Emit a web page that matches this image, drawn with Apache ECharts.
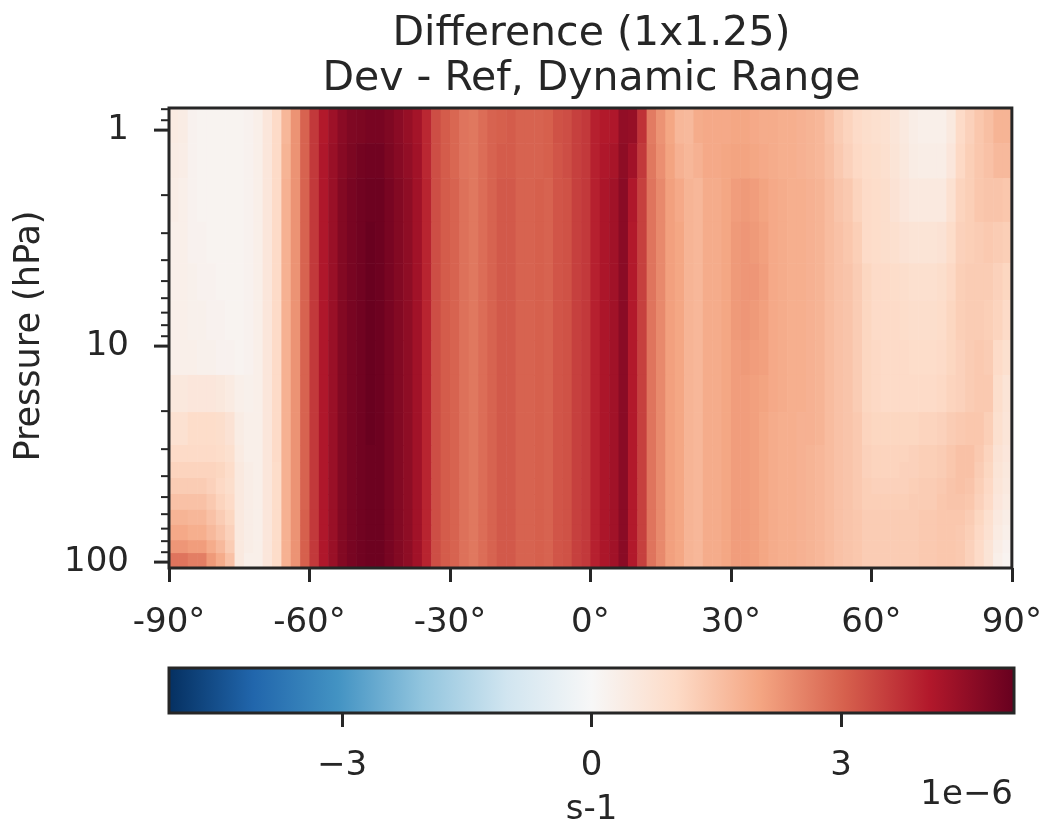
<!DOCTYPE html>
<html><head><meta charset="utf-8">
<script src="https://cdn.jsdelivr.net/npm/echarts@6/dist/echarts.min.js"></script>
<style>html,body{margin:0;padding:0;background:#fff}#c{width:1045px;height:832px}</style>
</head><body><div id="c"></div>
<script>
// ---------- text ----------
const titleLines = ['Difference (1x1.25)', 'Dev - Ref, Dynamic Range'];
const yAxisTitle = 'Pressure (hPa)';
const colorbarTitle = 's-1';
const colorbarExponent = '1e\u22126';

// ---------- coordinates ----------
const latCenters = [-89,-87,-85,-83,-81,-79,-77,-75,-73,-71,-69,-67,-65,-63,-61,-59,-57,-55,-53,-51,-49,-47,-45,-43,-41,-39,-37,-35,-33,-31,-29,-27,-25,-23,-21,-19,-17,-15,-13,-11,-9,-7,-5,-3,-1,1,3,5,7,9,11,13,15,17,19,21,23,25,27,29,31,33,35,37,39,41,43,45,47,49,51,53,55,57,59,61,63,65,67,69,71,73,75,77,79,81,83,85,87,89];
const latHalfWidth = 1;
// pressure level edges (hPa), top to bottom
const levelEdges = [0.79,1.15,1.67,2.66,4.13,6.13,9.37,13.6,20.2,28.7,34.4,40.8,48.4,57.3,67.3,79.1,90.8,106.5];
const xTickStep = 30;
const yMajorTicks = [1, 10, 100];
const yMinorTicks = [0.8,0.9,2,3,4,5,6,7,8,9,20,30,40,50,60,70,80,90];
const colorRange = [-5.08, 5.08];
const colorbarTicks = [-3, 0, 3];
const rdBuR = ['#053061','#2166ac','#4393c3','#92c5de','#d1e5f0','#f7f7f7','#fddbc7','#f4a582','#d6604d','#b2182b','#67001f'];

// ---------- values (units of 1e-6 s-1), one row per pressure layer, top to bottom ----------
// latitudes -89 .. -67
const southPolar = [
 [0.45,0.4,0.2,0.15,0.15,0.15,0.15,0.15,0.2,0.3,0.6,1.0],
 [0.4,0.35,0.2,0.15,0.15,0.15,0.15,0.15,0.2,0.3,0.6,1.0],
 [0.35,0.3,0.2,0.15,0.15,0.15,0.15,0.15,0.2,0.3,0.6,1.0],
 [0.3,0.3,0.2,0.2,0.15,0.15,0.15,0.15,0.2,0.3,0.6,1.0],
 [0.3,0.3,0.25,0.2,0.2,0.15,0.15,0.15,0.2,0.3,0.6,1.0],
 [0.3,0.3,0.25,0.25,0.2,0.2,0.15,0.15,0.2,0.3,0.6,1.0],
 [0.3,0.3,0.3,0.25,0.25,0.2,0.2,0.15,0.2,0.3,0.6,1.0],
 [0.55,0.55,0.6,0.6,0.6,0.55,0.45,0.3,0.25,0.3,0.6,1.0],
 [0.8,0.8,0.95,0.95,0.95,0.9,0.75,0.4,0.3,0.3,0.6,1.0],
 [1.0,1.0,1.0,1.0,1.0,0.95,0.85,0.45,0.3,0.3,0.6,1.0],
 [1.15,1.15,1.15,1.15,1.15,1.1,0.95,0.5,0.35,0.3,0.6,0.95],
 [1.3,1.3,1.3,1.3,1.2,1.05,0.9,0.5,0.35,0.3,0.6,0.95],
 [1.5,1.5,1.5,1.5,1.35,1.15,1.0,0.5,0.35,0.3,0.6,0.95],
 [1.75,1.75,1.7,1.7,1.5,1.3,1.1,0.5,0.35,0.3,0.6,0.95],
 [1.95,1.95,1.85,1.85,1.65,1.45,1.2,0.5,0.35,0.3,0.6,0.95],
 [2.25,2.25,2.15,2.15,1.9,1.65,1.3,0.5,0.35,0.3,0.6,0.95],
 [2.75,2.75,2.6,2.6,2.2,1.9,1.5,0.5,0.3,0.3,0.6,0.95]
];
// latitudes -65 .. 29
const tropics = [
 [1.7,2.3,3.0,3.6,4.05,4.35,4.6,4.75,4.8,4.85,4.85,4.75,4.6,4.45,4.25,3.85,3.3,3.1,2.95,2.75,2.7,2.85,3.0,3.05,3.1,3.0,3.0,3.0,3.05,3.25,3.3,3.5,3.6,3.95,4.05,4.1,4.5,4.45,3.7,2.65,2.3,2.0,1.7,1.65,1.9,1.95,1.95,1.95],
 [1.75,2.3,3.0,3.6,4.1,4.4,4.65,4.8,4.9,4.95,4.95,4.8,4.65,4.5,4.3,3.85,3.3,3.1,2.95,2.75,2.7,2.85,3.0,3.1,3.1,3.0,3.0,3.0,3.05,3.2,3.3,3.5,3.6,3.95,4.1,4.2,4.55,4.3,3.6,2.7,2.35,2.05,1.8,1.7,1.8,1.95,1.95,2.0],
 [1.8,2.3,3.0,3.6,4.1,4.4,4.7,4.85,4.95,5.0,5.0,4.85,4.7,4.55,4.3,3.9,3.3,3.1,3.0,2.8,2.7,2.85,3.0,3.15,3.15,3.0,3.0,3.05,3.0,3.2,3.25,3.5,3.6,3.95,4.15,4.3,4.6,4.1,3.5,2.75,2.45,2.1,1.95,1.75,1.7,1.9,1.9,2.0],
 [1.8,2.3,3.0,3.6,4.1,4.4,4.7,4.85,4.95,5.05,5.0,4.85,4.7,4.55,4.3,3.9,3.3,3.1,3.0,2.8,2.7,2.85,3.0,3.15,3.15,3.0,3.0,3.05,3.0,3.2,3.25,3.5,3.6,3.95,4.15,4.3,4.6,4.05,3.5,2.75,2.45,2.1,2.0,1.75,1.7,1.9,1.9,2.0],
 [1.8,2.3,3.0,3.6,4.1,4.4,4.7,4.85,4.95,5.05,5.0,4.85,4.7,4.55,4.3,3.9,3.3,3.1,3.0,2.8,2.7,2.85,3.0,3.15,3.15,3.0,3.0,3.05,3.0,3.2,3.25,3.5,3.6,3.95,4.15,4.3,4.6,4.05,3.5,2.75,2.45,2.1,2.0,1.75,1.7,1.9,1.9,2.0],
 [1.8,2.3,3.0,3.6,4.1,4.4,4.7,4.85,4.95,5.05,5.0,4.85,4.7,4.55,4.3,3.9,3.3,3.1,3.0,2.8,2.7,2.85,3.0,3.15,3.15,3.0,3.0,3.05,3.0,3.2,3.25,3.5,3.6,3.95,4.15,4.3,4.6,4.05,3.5,2.75,2.45,2.1,2.0,1.75,1.7,1.9,1.9,2.0],
 [1.8,2.3,3.0,3.6,4.1,4.4,4.7,4.85,4.95,5.05,5.0,4.85,4.7,4.55,4.3,3.9,3.3,3.1,3.0,2.8,2.7,2.85,3.0,3.15,3.15,3.0,3.0,3.05,3.0,3.2,3.25,3.5,3.6,3.95,4.15,4.3,4.6,4.05,3.5,2.75,2.45,2.1,2.0,1.75,1.7,1.9,1.9,2.0],
 [1.8,2.3,3.0,3.6,4.1,4.4,4.7,4.85,4.95,5.05,5.0,4.85,4.7,4.55,4.3,3.9,3.3,3.1,3.0,2.8,2.7,2.85,3.0,3.15,3.15,3.0,3.0,3.05,3.0,3.2,3.25,3.5,3.6,3.95,4.15,4.3,4.6,4.05,3.5,2.75,2.45,2.1,2.0,1.75,1.7,1.9,1.9,2.0],
 [1.8,2.3,3.0,3.6,4.1,4.4,4.7,4.85,4.95,5.05,5.0,4.85,4.7,4.55,4.3,3.9,3.3,3.1,3.0,2.8,2.7,2.85,3.0,3.15,3.15,3.0,3.0,3.05,3.0,3.2,3.25,3.5,3.6,3.95,4.15,4.3,4.6,4.05,3.5,2.75,2.45,2.1,2.0,1.75,1.7,1.9,1.9,2.0],
 [1.8,2.3,3.0,3.6,4.1,4.4,4.7,4.85,4.95,5.0,5.0,4.85,4.7,4.55,4.3,3.9,3.3,3.1,3.0,2.8,2.7,2.85,3.0,3.15,3.15,3.0,3.0,3.05,3.0,3.2,3.25,3.5,3.6,3.95,4.15,4.3,4.6,4.05,3.5,2.75,2.45,2.1,2.0,1.75,1.7,1.9,1.9,2.0],
 [1.8,2.3,3.0,3.6,4.1,4.4,4.7,4.85,4.95,5.0,5.0,4.85,4.7,4.55,4.3,3.9,3.3,3.1,3.0,2.8,2.7,2.85,3.0,3.15,3.15,3.0,3.0,3.05,3.0,3.2,3.25,3.5,3.6,3.95,4.15,4.3,4.6,4.05,3.5,2.75,2.45,2.1,2.0,1.75,1.7,1.9,1.9,2.0],
 [1.8,2.3,3.0,3.6,4.1,4.4,4.7,4.85,4.95,5.0,5.0,4.85,4.7,4.55,4.3,3.9,3.3,3.1,3.0,2.8,2.7,2.85,3.0,3.15,3.15,3.0,3.0,3.05,3.0,3.2,3.25,3.5,3.6,3.95,4.15,4.3,4.6,4.05,3.5,2.75,2.45,2.1,2.0,1.75,1.7,1.9,1.9,2.0],
 [1.8,2.3,3.0,3.6,4.1,4.4,4.7,4.85,4.95,5.0,5.0,4.85,4.7,4.55,4.3,3.9,3.3,3.1,3.0,2.8,2.7,2.85,3.0,3.15,3.15,3.0,3.0,3.05,3.0,3.2,3.25,3.5,3.6,3.95,4.15,4.3,4.6,4.05,3.5,2.75,2.45,2.1,2.0,1.75,1.7,1.9,1.9,2.0],
 [1.8,2.3,3.05,3.6,4.1,4.4,4.7,4.85,4.95,5.0,5.0,4.85,4.7,4.55,4.3,3.9,3.3,3.1,3.0,2.8,2.7,2.85,3.0,3.15,3.15,3.0,3.0,3.05,3.0,3.2,3.25,3.5,3.6,3.95,4.15,4.3,4.6,4.05,3.5,2.75,2.45,2.1,2.0,1.75,1.7,1.9,1.9,2.0],
 [1.8,2.3,3.05,3.6,4.1,4.4,4.7,4.85,4.95,5.0,5.0,4.85,4.7,4.55,4.3,3.9,3.3,3.1,3.0,2.8,2.7,2.85,3.0,3.15,3.15,3.0,3.0,3.05,3.0,3.2,3.25,3.5,3.6,3.95,4.15,4.3,4.6,4.05,3.5,2.75,2.45,2.1,2.0,1.75,1.7,1.9,1.9,2.0],
 [1.8,2.3,3.05,3.6,4.1,4.4,4.7,4.85,4.95,5.0,5.0,4.85,4.7,4.55,4.3,3.9,3.3,3.1,3.0,2.8,2.7,2.85,3.0,3.15,3.15,3.0,3.0,3.05,3.0,3.2,3.25,3.5,3.6,3.95,4.15,4.3,4.6,4.05,3.5,2.75,2.45,2.1,2.0,1.75,1.7,1.9,1.9,2.0],
 [1.8,2.3,3.05,3.6,4.1,4.4,4.7,4.85,4.95,5.0,5.0,4.85,4.7,4.55,4.3,3.9,3.3,3.1,3.0,2.8,2.7,2.85,3.0,3.15,3.15,3.0,3.0,3.05,3.0,3.2,3.25,3.5,3.6,3.95,4.15,4.3,4.6,4.05,3.5,2.75,2.45,2.1,2.0,1.75,1.7,1.9,1.9,2.0]
];
// latitudes 31 .. 89
const northern = [
 [2.0,2.0,1.95,1.9,1.9,1.85,1.85,1.8,1.75,1.7,1.5,1.3,1.15,1.0,0.9,0.85,0.8,0.65,0.5,0.35,0.3,0.3,0.3,0.5,1.0,1.2,1.4,1.55,1.75,1.75],
 [2.05,2.05,2.0,1.95,1.9,1.85,1.85,1.8,1.75,1.7,1.55,1.35,1.2,1.05,0.95,0.9,0.85,0.7,0.55,0.4,0.35,0.35,0.35,0.6,1.05,1.25,1.4,1.5,1.65,1.65],
 [2.15,2.2,2.15,2.05,1.95,1.9,1.85,1.85,1.8,1.75,1.6,1.45,1.35,1.15,1.0,0.95,0.9,0.75,0.6,0.5,0.5,0.5,0.5,0.8,1.15,1.25,1.4,1.45,1.45,1.4],
 [2.2,2.25,2.2,2.1,1.95,1.9,1.85,1.85,1.8,1.75,1.6,1.5,1.4,1.25,1.0,0.95,0.9,0.85,0.75,0.7,0.7,0.7,0.75,0.95,1.2,1.25,1.3,1.35,1.3,1.25],
 [2.2,2.25,2.25,2.15,1.95,1.9,1.85,1.85,1.8,1.75,1.6,1.5,1.45,1.3,1.1,1.0,1.0,0.95,0.9,0.85,0.85,0.85,0.9,1.05,1.25,1.3,1.3,1.3,1.2,1.1],
 [2.2,2.25,2.2,2.1,1.95,1.9,1.85,1.85,1.8,1.75,1.6,1.5,1.45,1.3,1.1,1.0,1.0,1.0,0.95,0.9,0.9,0.9,0.95,1.1,1.25,1.3,1.3,1.25,1.15,1.0],
 [2.15,2.2,2.15,2.1,1.95,1.9,1.85,1.85,1.8,1.75,1.6,1.5,1.45,1.3,1.1,1.05,1.0,1.0,1.0,0.95,0.95,0.95,1.0,1.1,1.2,1.3,1.35,1.3,1.0,0.85],
 [2.15,2.15,2.1,2.05,1.95,1.9,1.85,1.85,1.8,1.75,1.6,1.5,1.45,1.3,1.1,1.05,1.0,1.0,1.0,1.0,1.0,1.0,1.05,1.15,1.2,1.3,1.35,1.35,0.9,0.7],
 [2.15,2.15,2.1,2.0,1.9,1.85,1.85,1.8,1.8,1.75,1.6,1.5,1.45,1.35,1.15,1.1,1.1,1.1,1.1,1.1,1.15,1.15,1.2,1.3,1.35,1.4,1.4,1.25,0.85,0.65],
 [2.15,2.15,2.1,2.0,1.9,1.85,1.85,1.8,1.75,1.7,1.6,1.5,1.45,1.35,1.2,1.15,1.15,1.15,1.15,1.2,1.25,1.25,1.3,1.4,1.5,1.5,1.35,1.15,0.75,0.6],
 [2.15,2.15,2.1,2.0,1.9,1.85,1.85,1.8,1.75,1.7,1.6,1.5,1.45,1.35,1.2,1.15,1.15,1.15,1.2,1.2,1.25,1.25,1.3,1.4,1.5,1.5,1.3,1.1,0.7,0.55],
 [2.15,2.15,2.1,2.0,1.9,1.85,1.85,1.8,1.75,1.7,1.6,1.5,1.45,1.35,1.25,1.2,1.2,1.2,1.2,1.25,1.3,1.3,1.35,1.45,1.5,1.45,1.25,1.05,0.65,0.5],
 [2.15,2.15,2.1,2.0,1.9,1.85,1.85,1.8,1.75,1.7,1.6,1.5,1.45,1.35,1.25,1.25,1.25,1.25,1.25,1.3,1.3,1.3,1.4,1.45,1.45,1.4,1.2,1.0,0.6,0.45],
 [2.15,2.15,2.1,2.0,1.9,1.85,1.85,1.8,1.75,1.7,1.6,1.5,1.45,1.4,1.3,1.3,1.3,1.3,1.3,1.3,1.35,1.35,1.4,1.4,1.4,1.3,1.1,0.85,0.5,0.35],
 [2.15,2.15,2.1,2.0,1.9,1.85,1.85,1.8,1.75,1.7,1.6,1.5,1.45,1.4,1.3,1.3,1.3,1.3,1.3,1.3,1.35,1.35,1.4,1.4,1.35,1.25,1.05,0.8,0.45,0.3],
 [2.15,2.15,2.1,2.0,1.9,1.85,1.85,1.8,1.75,1.7,1.6,1.5,1.45,1.4,1.3,1.3,1.3,1.3,1.3,1.3,1.35,1.35,1.4,1.4,1.35,1.2,1.0,0.7,0.35,0.2],
 [2.15,2.15,2.1,2.0,1.9,1.85,1.85,1.8,1.75,1.7,1.6,1.5,1.45,1.4,1.3,1.3,1.3,1.3,1.3,1.3,1.35,1.35,1.4,1.4,1.35,1.2,1.0,0.7,0.3,0.15]
];

// ---------- build cells ----------
const cells = [];
for (let r = 0; r < levelEdges.length - 1; r++) {
  const row = southPolar[r].concat(tropics[r], northern[r]);
  row.forEach((v, i) => cells.push([latCenters[i], levelEdges[r], levelEdges[r + 1], v]));
}
const yTickData = yMajorTicks.map(p => [-90, p, 1]).concat(yMinorTicks.map(p => [-90, p, 0]));

const INK = '#262626';
const FONT = 'DejaVu Sans';
const TICK = 34;

const chart = echarts.init(document.getElementById('c'), null, {renderer: 'canvas'});
chart.setOption({
  animation: false,
  backgroundColor: '#ffffff',
  textStyle: {fontFamily: FONT, color: INK},
  grid: [
    {left: 169, top: 108, width: 845, height: 460, show: true, borderColor: INK, borderWidth: 3, backgroundColor: 'transparent', z: 5},
    {left: 169, top: 668, width: 845, height: 45, show: true, borderColor: INK, borderWidth: 3, backgroundColor: 'transparent', z: 5}
  ],
  xAxis: [
    {gridIndex: 0, type: 'value', min: -90, max: 90, interval: xTickStep,
     axisLine: {show: false}, splitLine: {show: false},
     axisTick: {show: true, length: 14, lineStyle: {color: INK, width: 3}},
     axisLabel: {fontSize: TICK, fontFamily: FONT, color: INK, margin: 38, formatter: v => v + '°'}},
    {gridIndex: 1, type: 'value', min: colorRange[0], max: colorRange[1],
     axisLine: {show: false}, splitLine: {show: false},
     axisTick: {show: true, length: 14, lineStyle: {color: INK, width: 3}, customValues: colorbarTicks},
     axisLabel: {fontSize: TICK, fontFamily: FONT, color: INK, margin: 36, customValues: colorbarTicks,
       formatter: v => (v < 0 ? '\u2212' + Math.abs(v) : String(v))}}
  ],
  yAxis: [
    {gridIndex: 0, type: 'log', logBase: 10, min: levelEdges[0], max: levelEdges[levelEdges.length - 1], inverse: true,
     axisLine: {show: false}, splitLine: {show: false}, axisTick: {show: false}, minorTick: {show: false},
     axisLabel: {fontSize: TICK, fontFamily: FONT, color: INK, margin: 40,
       formatter: v => { const r = Math.round(v * 1000) / 1000; return yMajorTicks.indexOf(r) >= 0 ? String(r) : ''; }}},
    {gridIndex: 1, type: 'value', min: 0, max: 1, show: false}
  ],
  visualMap: {
    type: 'continuous', show: false, seriesIndex: 0, dimension: 3,
    min: colorRange[0], max: colorRange[1], inRange: {color: rdBuR}
  },
  series: [
    {
      type: 'custom', xAxisIndex: 0, yAxisIndex: 0, data: cells,
      encode: {x: 0, y: [1, 2]},
      renderItem: function (params, api) {
        const lat = api.value(0);
        const a = api.coord([lat - latHalfWidth, api.value(1)]);
        const b = api.coord([lat + latHalfWidth, api.value(2)]);
        const x = Math.min(a[0], b[0]), y = Math.min(a[1], b[1]);
        return {type: 'rect', shape: {x: x, y: y, width: Math.abs(b[0] - a[0]) + 0.6, height: Math.abs(b[1] - a[1]) + 0.6},
                style: {fill: api.visual('color')}};
      }
    },
    {
      type: 'custom', xAxisIndex: 0, yAxisIndex: 0, data: yTickData, clip: false, z: 6,
      encode: {x: 0, y: 1},
      renderItem: function (params, api) {
        const pt = api.coord([api.value(0), api.value(1)]);
        const major = api.value(2) === 1;
        const len = major ? 15 : 8;
        return {type: 'line', shape: {x1: pt[0] - len, y1: pt[1], x2: pt[0], y2: pt[1]},
                style: {stroke: INK, lineWidth: major ? 3 : 2}};
      }
    },
    {
      type: 'custom', xAxisIndex: 1, yAxisIndex: 1, data: [[colorRange[0], colorRange[1]]],
      renderItem: function (params, api) {
        const a = api.coord([api.value(0), 0]);
        const b = api.coord([api.value(1), 1]);
        const stops = rdBuR.map((c, i) => ({offset: i / (rdBuR.length - 1), color: c}));
        return {type: 'rect', shape: {x: a[0], y: b[1], width: b[0] - a[0], height: a[1] - b[1]},
                style: {fill: new echarts.graphic.LinearGradient(0, 0, 1, 0, stops)}};
      }
    }
  ],
  graphic: [
    {type: 'text', x: 591.5, y: 34, style: {text: titleLines[0], font: '41px "DejaVu Sans"', fill: INK, textAlign: 'center', textVerticalAlign: 'middle'}},
    {type: 'text', x: 591.5, y: 79, style: {text: titleLines[1], font: '41px "DejaVu Sans"', fill: INK, textAlign: 'center', textVerticalAlign: 'middle'}},
    {type: 'text', x: 30, y: 336, rotation: Math.PI / 2, style: {text: yAxisTitle, font: '35px "DejaVu Sans"', fill: INK, textAlign: 'center', textVerticalAlign: 'middle'}},
    {type: 'text', x: 591.5, y: 810, style: {text: colorbarTitle, font: '34px "DejaVu Sans"', fill: INK, textAlign: 'center', textVerticalAlign: 'middle'}},
    {type: 'text', x: 1013, y: 795, style: {text: colorbarExponent, font: '34px "DejaVu Sans"', fill: INK, textAlign: 'right', textVerticalAlign: 'middle'}}
  ]
});
</script>
</body></html>
